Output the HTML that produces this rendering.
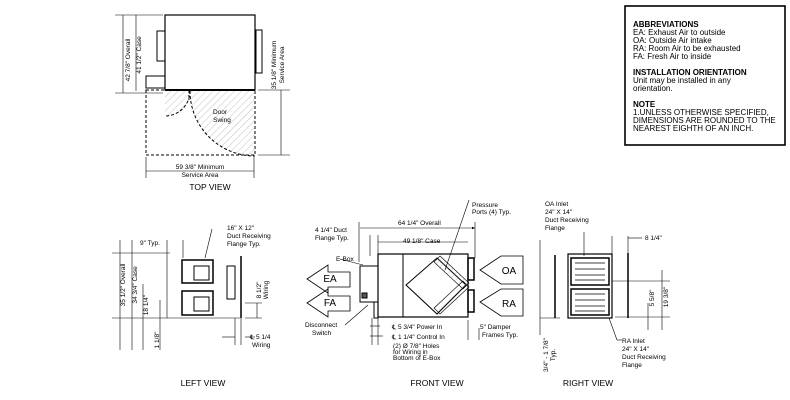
<!DOCTYPE html>
<html><head><meta charset="utf-8"><style>
html,body{margin:0;padding:0;background:#fff;}
svg{display:block;font-family:"Liberation Sans",sans-serif;}
</style></head><body>
<svg width="790" height="400" viewBox="0 0 790 400" xmlns="http://www.w3.org/2000/svg">
<defs>
<pattern id="h" width="5" height="5" patternUnits="userSpaceOnUse" patternTransform="rotate(45)"><line x1="0" y1="0" x2="0" y2="5" stroke="#999" stroke-width="0.6"/></pattern>
<marker id="a" markerWidth="6" markerHeight="6" refX="5" refY="3" orient="auto"><path d="M0,1 L5,3 L0,5z" fill="#000"/></marker>
</defs>
<g stroke="#000" fill="none" stroke-width="1">
<!-- TOP VIEW -->
<rect x="165" y="15" width="90" height="75" stroke-width="1.2"/>
<rect x="157" y="31" width="8" height="30"/>
<rect x="256" y="30" width="6" height="43"/>
<rect x="146" y="76" width="19" height="12"/>
<line x1="165" y1="90" x2="255" y2="90" stroke-width="2"/>
<rect x="146" y="90" width="109" height="65" stroke-dasharray="3,2"/>
<path d="M165,91 L190,91 A25,25 0 0 1 165,116 z" fill="url(#h)" stroke="none"/>
<path d="M190,91 A25,25 0 0 1 165,116" stroke-dasharray="3,2"/>
<line x1="189" y1="91" x2="189" y2="100" stroke-dasharray="2,2"/>
<path d="M255,91 L190,91 A65,65 0 0 0 255,156 z" fill="url(#h)" stroke="none"/>
<path d="M190,91 A65,65 0 0 0 255,156" stroke-dasharray="3,2"/>
<g stroke-width="0.6">
<line x1="115" y1="15" x2="163" y2="15"/><line x1="115" y1="93" x2="163" y2="93"/>
<line x1="123" y1="15" x2="123" y2="93"/><line x1="136" y1="15" x2="136" y2="91"/>
<line x1="258" y1="90" x2="290" y2="90"/><line x1="258" y1="155" x2="290" y2="155"/>
<line x1="281" y1="90" x2="281" y2="155"/>
<line x1="146" y1="157" x2="146" y2="178"/><line x1="254" y1="157" x2="254" y2="178"/>
<line x1="146" y1="171" x2="254" y2="171"/>
</g>
<!-- LEFT VIEW -->
<g stroke-width="0.6">
<line x1="112" y1="253" x2="170" y2="253"/><line x1="112" y1="318" x2="240" y2="318"/>
<line x1="120" y1="240" x2="120" y2="350"/><line x1="132" y1="240" x2="132" y2="350"/>
<line x1="143" y1="284" x2="143" y2="350"/><line x1="160" y1="300" x2="160" y2="350"/>
<line x1="167" y1="240" x2="167" y2="318"/><line x1="183" y1="240" x2="183" y2="258"/>
<line x1="245" y1="303" x2="262" y2="303"/><line x1="245" y1="318" x2="262" y2="318"/>
<line x1="257" y1="303" x2="257" y2="318"/>
<line x1="222" y1="337" x2="235" y2="337"/><line x1="245" y1="337" x2="255" y2="337"/>
<line x1="241" y1="318" x2="241" y2="345"/><line x1="235" y1="318" x2="235" y2="345"/>
<line x1="212" y1="229" x2="205" y2="258"/>
</g>
<rect x="182" y="260" width="31" height="23" stroke-width="1.5"/>
<rect x="194" y="266" width="15" height="14"/>
<rect x="182" y="291" width="31" height="24" stroke-width="1.5"/>
<rect x="194" y="297" width="15" height="14"/>
<rect x="227" y="266" width="8" height="33"/>
<line x1="241" y1="256" x2="241" y2="318" stroke-width="1.5"/>
<!-- FRONT VIEW -->
<rect x="378" y="254" width="90" height="63" stroke-width="1.2"/>
<line x1="403" y1="254" x2="403" y2="317"/>
<rect x="360" y="266" width="18" height="36"/>
<rect x="362" y="293" width="5" height="5" fill="#555"/>
<rect x="374" y="302" width="4" height="16"/>
<path d="M437,258 L466,285 L437,314 L406,285z"/>
<path d="M440,256 L469,283 L463,289 L434,262z" fill="url(#h)" stroke-width="0.6"/>
<path d="M440,314 L469,287 L463,281 L434,308z" fill="url(#h)" stroke-width="0.6"/>
<rect x="468" y="258" width="6" height="22" stroke-width="1.5"/>
<rect x="468" y="290" width="6" height="22" stroke-width="1.5"/>
<g stroke-width="0.6">
<line x1="360" y1="228" x2="475" y2="228" marker-end="url(#a)"/>
<line x1="378" y1="242" x2="468" y2="242"/>
<line x1="359" y1="222" x2="359" y2="262"/><line x1="475" y1="222" x2="475" y2="258"/>
<line x1="370" y1="235" x2="370" y2="256"/><line x1="378" y1="235" x2="378" y2="254"/>
<line x1="479" y1="328" x2="479" y2="340"/><line x1="468" y1="320" x2="468" y2="340"/>
<line x1="380" y1="326" x2="370" y2="326"/><line x1="383" y1="336" x2="370" y2="336"/>
<line x1="378" y1="318" x2="378" y2="345"/><line x1="372" y1="318" x2="372" y2="345"/>
<line x1="469" y1="200" x2="445" y2="270"/>
<line x1="345" y1="325" x2="368" y2="305"/><line x1="340" y1="259" x2="363" y2="265"/>
</g>
<path d="M307,279 L328,265 L328,272 L350,272 L350,287 L328,287 L328,293z" stroke-width="0.8"/>
<path d="M307,303 L328,289 L328,296 L350,296 L350,311 L328,311 L328,317z" stroke-width="0.8"/>
<path d="M480,270 L501,256 L523,256 L523,284 L501,284z" stroke-width="0.8"/>
<path d="M480,302 L501,289 L523,289 L523,316 L501,316z" stroke-width="0.8"/>
<!-- RIGHT VIEW -->
<rect x="568" y="254" width="44" height="64" stroke-width="1.2"/>
<rect x="571" y="258" width="38" height="27" stroke-width="1.5"/>
<rect x="571" y="289" width="38" height="26" stroke-width="1.5"/>
<g stroke-width="0.8">
<line x1="575" y1="263" x2="605" y2="263"/><line x1="575" y1="269" x2="605" y2="269"/><line x1="575" y1="275" x2="605" y2="275"/><line x1="575" y1="280" x2="605" y2="280"/>
<line x1="575" y1="294" x2="605" y2="294"/><line x1="575" y1="300" x2="605" y2="300"/><line x1="575" y1="306" x2="605" y2="306"/><line x1="575" y1="311" x2="605" y2="311"/>
</g>
<line x1="555" y1="255" x2="555" y2="318" stroke-width="1.5"/>
<line x1="628" y1="253" x2="628" y2="318" stroke-width="1.5"/>
<g stroke-width="0.6">
<line x1="612" y1="236" x2="612" y2="254"/><line x1="628" y1="236" x2="628" y2="254"/>
<line x1="628" y1="238" x2="642" y2="238"/>
<line x1="612" y1="281" x2="670" y2="281"/><line x1="615" y1="317" x2="670" y2="317"/>
<line x1="662" y1="270" x2="662" y2="330"/><line x1="648" y1="303" x2="648" y2="330"/>
<line x1="540" y1="318" x2="560" y2="318"/><line x1="540" y1="240" x2="540" y2="335"/>
<line x1="584" y1="232" x2="584" y2="256"/>
<line x1="609" y1="318" x2="617" y2="340"/><line x1="617" y1="340" x2="622" y2="340"/>
</g>
<!-- NOTES -->
<rect x="625" y="6" width="160" height="139" stroke-width="1.6"/>
</g>
<g font-size="6.5" fill="#000">
<text transform="translate(130,60) rotate(-90)" text-anchor="middle">42 7/8" Overall</text>
<text transform="translate(141,55) rotate(-90)" text-anchor="middle">41 1/2" Case</text>
<text transform="translate(276,65) rotate(-90)" text-anchor="middle">35 1/8" Minimum</text>
<text transform="translate(284,65) rotate(-90)" text-anchor="middle">Service Area</text>
<text x="220" y="114" text-anchor="middle">Door</text><text x="222" y="122" text-anchor="middle">Swing</text>
<text x="200" y="169" text-anchor="middle">59 3/8" Minimum</text><text x="200" y="177" text-anchor="middle">Service Area</text>
<text x="227" y="230">16" X 12"</text><text x="227" y="238">Duct Receiving</text><text x="227" y="246">Flange Typ.</text>
<text x="140" y="245">9" Typ.</text>
<text transform="translate(125,285) rotate(-90)" text-anchor="middle">35 1/2" Overall</text>
<text transform="translate(137,285) rotate(-90)" text-anchor="middle">34 3/4" Case</text>
<text transform="translate(148,305) rotate(-90)" text-anchor="middle">18 1/4"</text>
<text transform="translate(159,340) rotate(-90)" text-anchor="middle">1 1/8"</text>
<text transform="translate(261,290) rotate(-90)" text-anchor="middle">8 1/2"</text>
<text transform="translate(268,290) rotate(-90)" text-anchor="middle">Wiring</text>
<text x="250" y="339">℄ 5 1/4</text><text x="252" y="347">Wiring</text>
<text x="398" y="225">64 1/4" Overall</text><text x="403" y="243">49 1/8" Case</text>
<text x="315" y="232">4 1/4" Duct</text><text x="315" y="240">Flange Typ.</text>
<text x="336" y="261">E-Box</text>
<text x="305" y="327">Disconnect</text><text x="312" y="335">Switch</text>
<text x="472" y="207">Pressure</text><text x="472" y="214">Ports (4) Typ.</text>
<text x="392" y="329">℄ 5 3/4" Power In</text><text x="392" y="339">℄ 1 1/4" Control In</text>
<text x="393" y="348">(2) Ø 7/8" Holes</text><text x="393" y="354">for Wiring in</text><text x="393" y="360">Bottom of E-Box</text>
<text x="480" y="329">5" Damper</text><text x="482" y="337">Frames Typ.</text>
<text x="545" y="206">OA Inlet</text><text x="545" y="214">24" X 14"</text><text x="545" y="222">Duct Receiving</text><text x="545" y="230">Flange</text>
<text x="645" y="240">8 1/4"</text>
<text transform="translate(654,298) rotate(-90)" text-anchor="middle">5 5/8"</text>
<text transform="translate(668,297) rotate(-90)" text-anchor="middle">19 3/8"</text>
<text transform="translate(548,355) rotate(-90)" text-anchor="middle">3/4" - 1 7/8"</text>
<text transform="translate(555,355) rotate(-90)" text-anchor="middle">Typ.</text>
<text x="622" y="343">RA Inlet</text><text x="622" y="351">24" X 14"</text><text x="622" y="359">Duct Receiving</text><text x="622" y="367">Flange</text>
</g>
<g font-size="10" fill="#000">
<text x="330" y="282" text-anchor="middle">EA</text><text x="330" y="306" text-anchor="middle">FA</text>
<text x="509" y="274" text-anchor="middle">OA</text><text x="509" y="307" text-anchor="middle">RA</text>
</g>
<g font-size="8.5" fill="#000" text-anchor="middle">
<text x="210" y="190">TOP VIEW</text><text x="203" y="386">LEFT VIEW</text>
<text x="437" y="386">FRONT VIEW</text><text x="588" y="386">RIGHT VIEW</text>
</g>
<g font-size="8" fill="#000">
<text x="633" y="27" font-weight="bold">ABBREVIATIONS</text>
<text x="633" y="35">EA: Exhaust Air to outside</text>
<text x="633" y="43">OA: Outside Air intake</text>
<text x="633" y="51">RA: Room Air to be exhausted</text>
<text x="633" y="59">FA: Fresh Air to inside</text>
<text x="633" y="75" font-weight="bold">INSTALLATION ORIENTATION</text>
<text x="633" y="83">Unit may be installed in any</text>
<text x="633" y="91">orientation.</text>
<text x="633" y="107" font-weight="bold">NOTE</text>
<text x="633" y="115">1.UNLESS OTHERWISE SPECIFIED,</text>
<text x="633" y="123">DIMENSIONS ARE ROUNDED TO THE</text>
<text x="633" y="131">NEAREST EIGHTH OF AN INCH.</text>
</g>
</svg>
</body></html>
